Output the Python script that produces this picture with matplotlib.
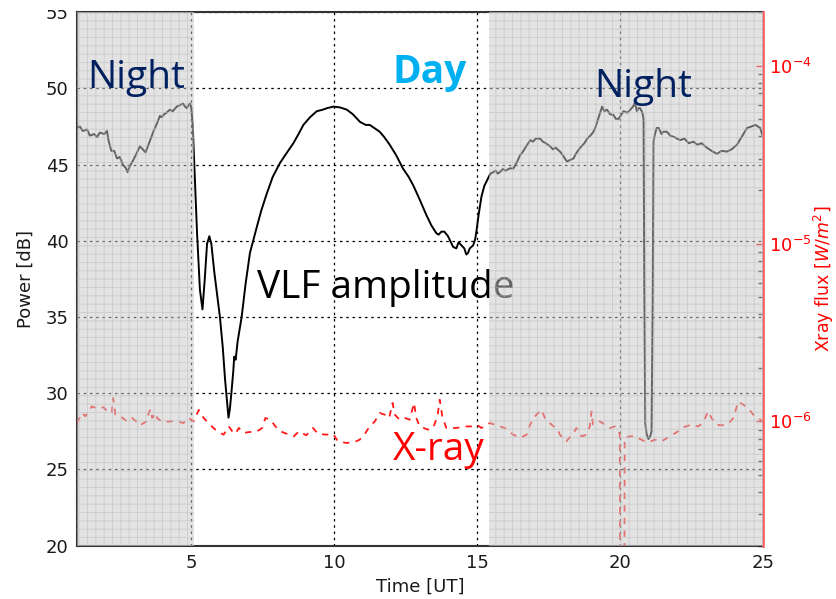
import matplotlib
matplotlib.use("Agg")
import matplotlib.pyplot as plt
from matplotlib.ticker import MultipleLocator, LogLocator
from matplotlib.patches import Rectangle

# VLF amplitude [dB] versus time [UT]
vlf_time = [1.00, 1.10, 1.20, 1.35, 1.45, 1.60, 1.70, 1.80, 1.95, 2.05, 2.10, 2.20, 2.30, 2.40,
            2.50, 2.60, 2.70, 2.77, 2.85, 2.97, 3.05, 3.15, 3.20, 3.30, 3.40, 3.50, 3.60, 3.70,
            3.80, 3.90, 3.96, 4.05, 4.13, 4.25, 4.35, 4.49, 4.60, 4.71, 4.78, 4.84, 4.90, 4.96,
            5.00, 5.05, 5.12, 5.20, 5.30, 5.39, 5.47, 5.55, 5.63, 5.70, 5.80, 5.90, 6.00, 6.10,
            6.18, 6.26, 6.30, 6.35, 6.41, 6.47, 6.50, 6.55, 6.62, 6.76, 6.90, 7.05, 7.29, 7.45,
            7.64, 7.85, 8.10, 8.35, 8.57, 8.75, 8.92, 9.15, 9.39, 9.60, 9.75, 9.97, 10.20, 10.44,
            10.65, 10.90, 11.10, 11.24, 11.40, 11.59, 11.75, 11.94, 12.17, 12.40, 12.60, 12.76,
            12.99, 13.22, 13.40, 13.57, 13.65, 13.75, 13.85, 13.98, 14.08, 14.16, 14.27, 14.35,
            14.45, 14.55, 14.62, 14.68, 14.74, 14.86, 14.93, 14.98, 15.05, 15.15, 15.25, 15.38,
            15.46, 15.56, 15.65, 15.72, 15.79, 15.90, 16.00, 16.14, 16.27, 16.40, 16.50, 16.62,
            16.75, 16.86, 16.95, 17.05, 17.20, 17.30, 17.40, 17.55, 17.65, 17.75, 17.90, 18.00,
            18.14, 18.25, 18.37, 18.45, 18.60, 18.75, 18.85, 18.96, 19.05, 19.13, 19.25, 19.37,
            19.45, 19.54, 19.65, 19.77, 19.85, 19.95, 20.05, 20.12, 20.25, 20.36, 20.45, 20.50,
            20.55, 20.59, 20.65, 20.70, 20.78, 20.82, 20.85, 20.88, 20.93, 20.99, 21.05, 21.10,
            21.14, 21.17, 21.22, 21.28, 21.35, 21.45, 21.51, 21.64, 21.75, 21.90, 22.10, 22.25,
            22.40, 22.57, 22.70, 22.85, 23.04, 23.20, 23.39, 23.55, 23.74, 23.90, 24.09, 24.25,
            24.44, 24.60, 24.73, 24.82, 24.90, 25.00]
vlf_power = [47.4, 47.5, 47.2, 47.3, 46.9, 47.0, 46.8, 47.1, 47.0, 47.2, 46.6, 45.9, 45.9, 45.4,
             45.5, 45.0, 44.8, 44.5, 44.9, 45.3, 45.6, 46.0, 46.2, 46.0, 45.8, 46.3, 46.8, 47.3,
             47.7, 48.2, 48.1, 48.3, 48.4, 48.6, 48.5, 48.8, 48.9, 49.0, 48.8, 48.7, 48.9, 49.0,
             48.7, 47.5, 44.2, 40.5, 36.8, 35.5, 37.5, 39.8, 40.3, 39.8, 38.0, 36.5, 35.0, 33.0,
             30.9, 29.2, 28.4, 29.0, 30.2, 31.5, 32.4, 32.2, 33.4, 35.0, 37.2, 39.2, 40.9, 42.0,
             43.1, 44.2, 45.1, 45.8, 46.4, 47.0, 47.6, 48.1, 48.5, 48.6, 48.7, 48.8, 48.75, 48.6,
             48.3, 47.8, 47.6, 47.6, 47.4, 47.15, 46.8, 46.3, 45.6, 44.75, 44.2, 43.65,
             42.7, 41.7, 41.0, 40.5, 40.4, 40.6, 40.6, 40.3, 39.9, 39.6, 39.5, 39.9,
             39.7, 39.5, 39.1, 39.2, 39.5, 39.7, 40.1, 40.7, 41.7, 42.9, 43.6, 44.1,
             44.4, 44.5, 44.6, 44.4, 44.5, 44.7, 44.6, 44.75, 44.75, 45.2, 45.6, 45.9,
             46.3, 46.6, 46.5, 46.7, 46.7, 46.5, 46.4, 46.2, 46.0, 46.1, 45.85, 45.6,
             45.2, 45.3, 45.4, 45.7, 46.1, 46.4, 46.7, 46.9, 47.1, 47.4, 48.1, 48.8,
             48.5, 48.6, 48.3, 48.25, 48.0, 48.0, 48.3, 48.5, 48.4, 48.6, 48.8, 49.0,
             48.8, 48.5, 48.7, 48.7, 48.4, 48.0, 36.0, 28.0, 27.3, 27.0, 27.15, 27.5,
             36.0, 46.5, 47.0, 47.4, 47.4, 47.0, 47.15, 47.15, 46.9, 46.8, 46.6, 46.7,
             46.4, 46.5, 46.3, 46.4, 46.1, 45.9, 45.7, 45.9, 45.85, 46.0, 46.3, 46.8,
             47.4, 47.5, 47.6, 47.5, 47.4, 46.8]

# GOES X-ray flux [W/m^2] versus time [UT]
xray_time = [1.00, 1.18, 1.29, 1.52, 1.65, 1.82, 1.93, 2.11, 2.22, 2.26, 2.30, 2.34, 2.52, 2.75,
             2.93, 3.10, 3.22, 3.33, 3.45, 3.51, 3.57, 3.63, 3.74, 3.80, 3.98, 4.27, 4.50, 4.73,
             4.91, 5.08, 5.26, 5.43, 5.72, 5.90, 6.13, 6.31, 6.43, 6.54, 6.66, 6.83, 7.01, 7.30,
             7.48, 7.59, 7.77, 7.94, 8.12, 8.35, 8.59, 8.76, 9.02, 9.26, 9.43, 9.73, 9.96, 10.13,
             10.43, 10.72, 10.89, 11.07, 11.24, 11.42, 11.59, 11.77, 11.92, 12.04, 12.12, 12.29,
             12.47, 12.64, 12.79, 12.87, 12.99, 13.28, 13.46, 13.61, 13.69, 13.78, 13.92, 14.27,
             14.57, 14.80, 14.98, 15.15, 15.44, 15.79, 15.97, 16.26, 16.50, 16.73, 16.85, 17.02,
             17.25, 17.37, 17.60, 17.83, 17.89, 18.12, 18.41, 18.47, 18.65, 18.82, 18.94, 19.00,
             19.05, 19.29, 19.47, 19.64, 19.82, 19.93, 19.99, 20.01, 20.14, 20.16, 20.34, 20.51,
             20.86, 21.04, 21.21, 21.45, 21.74, 22.03, 22.20, 22.50, 22.73, 22.90, 23.08, 23.20,
             23.37, 23.55, 23.78, 23.96, 24.13, 24.31, 24.48, 24.66, 24.90, 25.00]
xray_flux = [0.98e-6, 1.115e-6, 1.067e-6, 1.214e-6, 1.19e-6, 1.19e-6, 1.20e-6, 1.115e-6, 1.12e-6,
             1.35e-6, 1.25e-6, 1.09e-6, 1.067e-6, 1.0e-6,
             1.045e-6, 0.99e-6, 0.95e-6, 0.979e-6, 1.0e-6, 1.115e-6, 1.17e-6, 1.045e-6, 1.115e-6,
             1.045e-6, 0.99e-6, 1.0e-6, 1.0e-6, 0.979e-6,
             1.045e-6, 1.0e-6, 1.16e-6, 1.045e-6, 0.937e-6, 0.879e-6, 0.842e-6, 0.937e-6, 0.879e-6,
             0.85e-6, 0.918e-6, 0.861e-6, 0.87e-6, 0.879e-6,
             0.918e-6, 1.045e-6, 1.022e-6, 0.937e-6, 0.879e-6, 0.85e-6, 0.824e-6, 0.879e-6,
             0.835e-6, 0.918e-6, 0.85e-6, 0.842e-6, 0.85e-6, 0.772e-6,
             0.756e-6, 0.766e-6, 0.789e-6, 0.85e-6, 0.937e-6, 1.0e-6, 1.115e-6, 1.09e-6, 1.045e-6,
             1.269e-6, 1.09e-6, 1.022e-6,
             1.045e-6, 1.022e-6, 1.269e-6, 1.045e-6, 0.937e-6, 0.898e-6, 0.918e-6, 1.067e-6,
             1.324e-6, 1.067e-6, 0.918e-6, 0.918e-6,
             0.937e-6, 0.937e-6, 0.958e-6, 0.918e-6, 0.979e-6, 0.937e-6, 0.918e-6, 0.842e-6,
             0.807e-6, 0.842e-6, 0.958e-6, 1.067e-6,
             1.163e-6, 1.045e-6, 0.958e-6, 0.898e-6, 0.842e-6, 0.772e-6, 0.879e-6, 0.918e-6,
             0.824e-6, 0.842e-6, 0.937e-6, 1.138e-6,
             0.958e-6, 1.0e-6, 0.958e-6, 0.918e-6, 0.937e-6, 0.879e-6, 0.85e-6, 1e-8, 1e-8,
             0.807e-6, 0.824e-6, 0.824e-6,
             0.772e-6, 0.766e-6, 0.789e-6, 0.772e-6, 0.824e-6, 0.879e-6, 0.926e-6, 0.958e-6,
             0.937e-6, 0.979e-6, 1.138e-6, 1.045e-6,
             0.958e-6, 0.95e-6, 0.966e-6, 1.045e-6, 1.29e-6, 1.241e-6, 1.189e-6, 1.09e-6,
             1.022e-6, 1.0e-6]

# Night-time intervals [UT]
night_spans = [(1.0, 5.1), (15.42, 25.0)]

plt.rcParams["font.family"] = ["DejaVu Sans"]
plt.rcParams["hatch.linewidth"] = 0.7

fig = plt.figure(figsize=(8.36, 5.99), dpi=100)
ax = fig.add_axes([0.0921, 0.0890, 0.8206, 0.8908])

ax.plot(vlf_time, vlf_power, color="black", lw=1.4, zorder=3)
ax.set_xlim(1, 25)
ax.set_ylim(20, 55)
ax.xaxis.set_major_locator(MultipleLocator(5))
ax.yaxis.set_major_locator(MultipleLocator(5))
ax.grid(True, color="black", linestyle=(0, (2, 3)), lw=0.9)
ax.tick_params(axis="both", direction="in", length=0, labelsize=13, pad=6,
               colors="#222222", labelcolor="#1a1a1a")
ax.set_xlabel("Time [UT]", fontsize=13, color="#1a1a1a", labelpad=4)
ax.set_ylabel("Power [dB]", fontsize=13, color="#1a1a1a", labelpad=8)
for side in ("left", "bottom", "top"):
    ax.spines[side].set_color("#333333")
    ax.spines[side].set_linewidth(1.5)

ax.text(11.82, 36.9, "VLF amplitude", fontsize=28, family="Open Sans",
        color="black", ha="center", va="center", zorder=4)

ax2 = ax.twinx()
ax2.plot(xray_time, xray_flux, color="#ff0000", alpha=0.9, lw=1.3,
         linestyle=(0, (3.5, 3.5)), zorder=3)
ax2.set_yscale("log")
ax2.set_ylim(2e-7, 2e-4)
ax2.yaxis.set_major_locator(LogLocator(base=10))
ax2.yaxis.set_minor_locator(LogLocator(base=10, subs=range(2, 10)))
ax2.tick_params(axis="y", which="major", direction="in", length=5, width=1,
                colors="#ff0000", labelsize=13, pad=4)
ax2.tick_params(axis="y", which="minor", direction="in", length=3.5, width=1,
                colors="#222222")
ax2.set_ylabel("Xray flux [$W/m^2$]", fontsize=12.5, color="#ff0000", labelpad=0)
ax2.spines["right"].set_color("#ff5a5a")
ax2.spines["right"].set_linewidth(1.8)
for side in ("left", "bottom", "top"):
    ax2.spines[side].set_visible(False)

# Night shading laid over both traces
for t0, t1 in night_spans:
    ax2.axvspan(t0, t1, facecolor="#c8c8c8", edgecolor="#bababa", hatch="++",
                lw=0, alpha=0.5, zorder=5)

ax2.text(3.07, 50.7, "Night", transform=ax.transData, fontsize=28, family="Open Sans",
         color="#002060", ha="center", va="center", zorder=8)
ax2.text(20.81, 50.1, "Night", transform=ax.transData, fontsize=28, family="Open Sans",
         color="#002060", ha="center", va="center", zorder=8)
ax2.text(13.32, 51.05, "Day", transform=ax.transData, fontsize=28, family="Open Sans",
         fontweight="bold", color="#00b0f0", ha="center", va="center", zorder=8)
ax2.text(13.67, 26.3, "X-ray", transform=ax.transData, fontsize=28, family="Open Sans",
         color="#ff0000", ha="center", va="center", zorder=8)

# white band along the top edge
fig.patches.append(Rectangle((0, 1 - 10 / 599), 1, 10 / 599, transform=fig.transFigure,
                             facecolor="white", edgecolor="none", zorder=20))

fig.savefig("out.png", dpi=100)
